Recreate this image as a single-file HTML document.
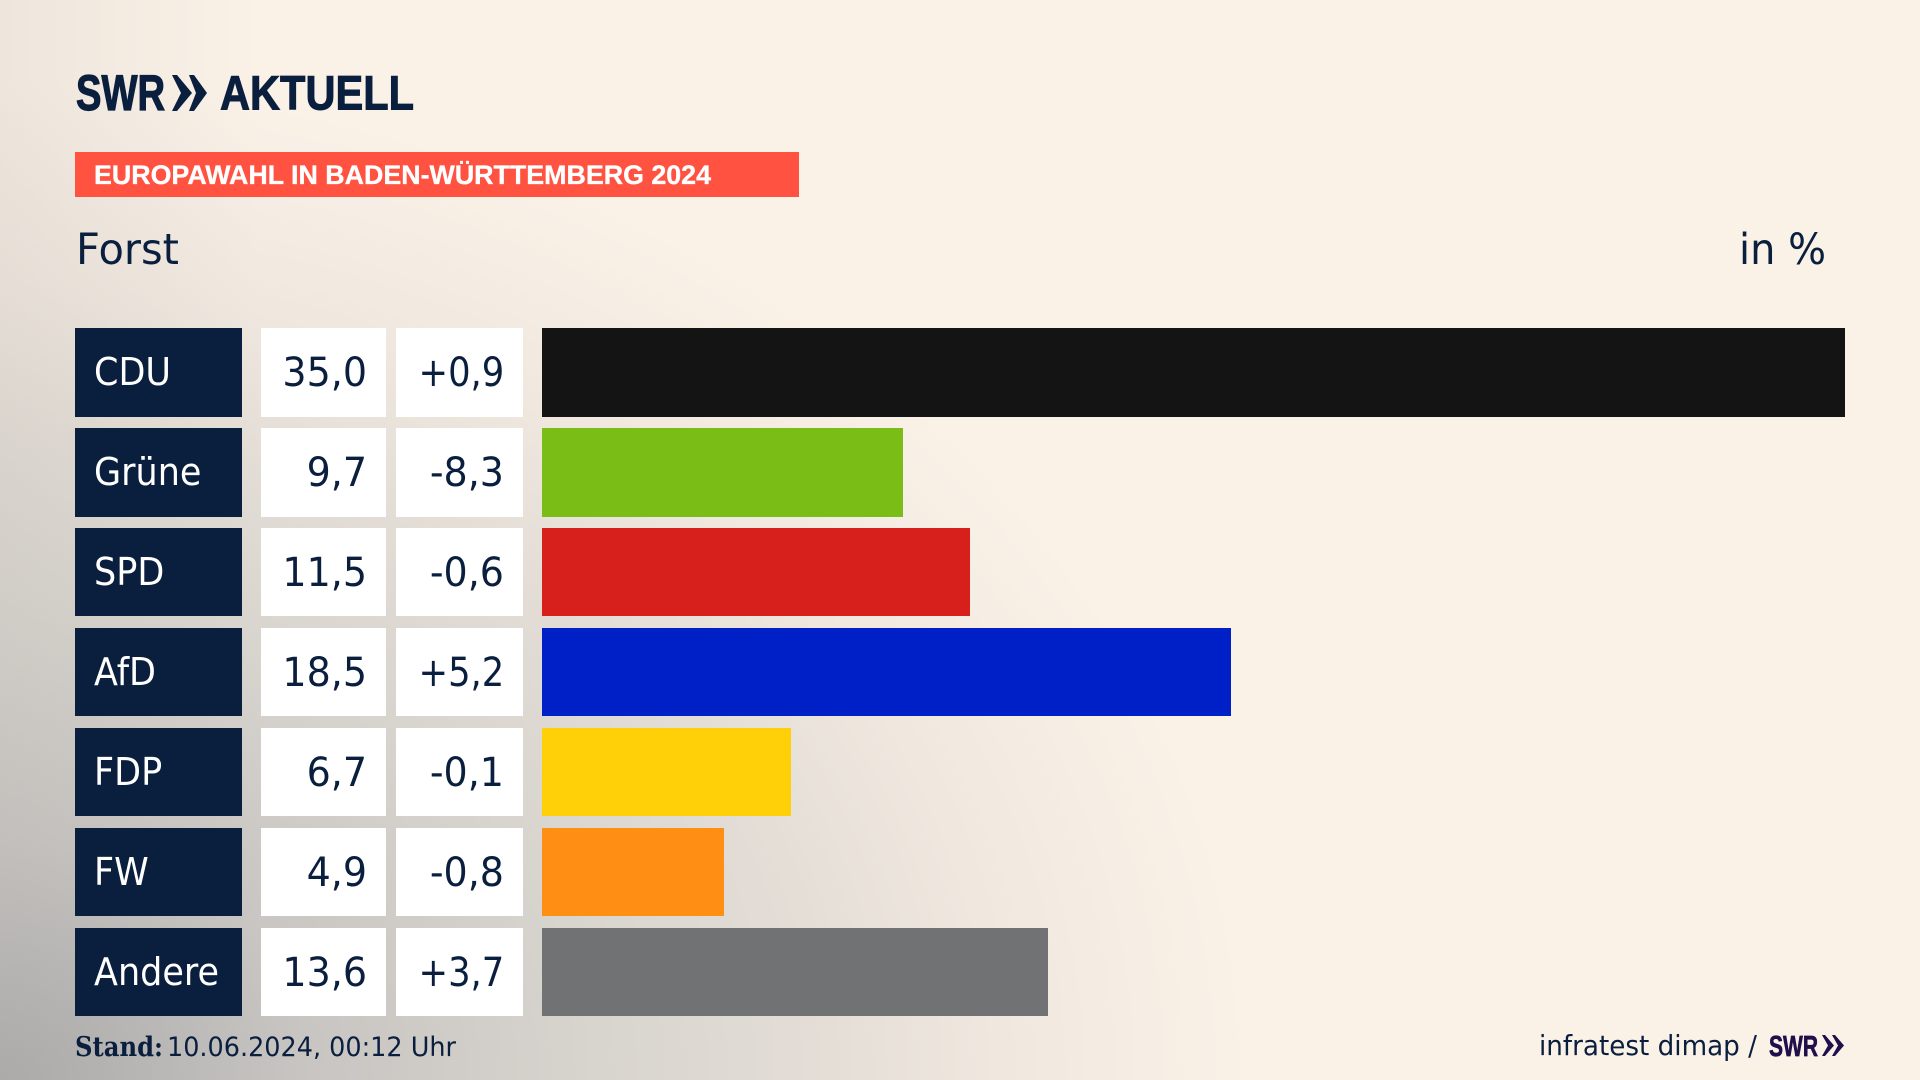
<!DOCTYPE html>
<html lang="de">
<head>
<meta charset="utf-8">
<title>Europawahl in Baden-Württemberg 2024 – Forst</title>
<style>
  html,body{margin:0;padding:0;width:1920px;height:1080px;overflow:hidden}
  body{position:relative;font-family:"DejaVu Sans","Liberation Sans",sans-serif;color:#0a1f3e;
    background:
      linear-gradient(90deg,rgba(165,160,155,.14) 0,rgba(165,160,155,0) 260px),
      radial-gradient(ellipse 1250px 1000px at 0 1080px,#acacac 0%,#c8c5c2 25%,#d8d4ce 48%,#e3ddd6 65%,#f0e8df 80%,#faf1e7 100%)}
  svg.overlay{position:absolute;left:0;top:0}
  #banner{position:absolute;left:75px;top:152px;width:724px;height:45px;background:#ff5240}
  .row-cell{position:absolute;height:89px;line-height:89px;box-sizing:border-box;white-space:nowrap}
  .short-row{height:88px;line-height:88px}
  .label-cell{left:75px;width:167px;background:#0a1f3e;color:#fff;font-size:35px;padding-left:19px}
  .value-cell{left:261px;width:125px;background:#fff;font-size:38px;text-align:right;padding-right:19px}
  .delta-cell{left:396px;width:127px;background:#fff;font-size:38px;text-align:right;padding-right:19px}
  .bar{position:absolute;left:542px;height:89px}
  .bar.short-row{height:88px}
  .bar-cdu{background:#141414}.bar-gruene{background:#7abd17}.bar-spd{background:#d7201c}
  .bar-afd{background:#0020c7}.bar-fdp{background:#ffcf08}.bar-fw{background:#ff8f14}.bar-andere{background:#717273}
  .row-cell span{display:inline-block;transform:scaleY(1.06);transform-origin:center center}
  .label-cell span{transform:translateY(1px) scaleY(1.09)}
  .pos-delta span{transform:scaleX(.93) scaleY(1.06);transform-origin:right center}
</style>
</head>
<body>

<div id="banner"></div>

<svg class="overlay" width="1920" height="1080">
  <g fill="#0a1f3e">
    <text x="76" y="110" font-family="'Liberation Sans',sans-serif" font-weight="700" font-size="50" textLength="89" lengthAdjust="spacingAndGlyphs" stroke="#0a1f3e" stroke-width="1.2">SWR</text>
    <polygon points="172,75 177,75 192,93 177,111 172,111 181,93"/>
    <polygon points="189,75 194,75 207,93 194,111 189,111 196,93"/>
    <text x="220" y="109.5" font-family="'Liberation Sans',sans-serif" font-weight="700" font-size="48" textLength="194" lengthAdjust="spacingAndGlyphs" stroke="#0a1f3e" stroke-width="1">AKTUELL</text>
  </g>
  <text x="94" y="184" fill="#fff" stroke="#fff" stroke-width=".35" font-family="'Liberation Sans',sans-serif" font-weight="700" font-size="27" textLength="617" lengthAdjust="spacingAndGlyphs">EUROPAWAHL IN BADEN-WÜRTTEMBERG 2024</text>
  <text x="76" y="264" fill="#0a1f3e" font-family="'DejaVu Sans',sans-serif" font-size="43" textLength="103" lengthAdjust="spacingAndGlyphs">Forst</text>
  <text x="1739" y="264" fill="#0a1f3e" font-family="'DejaVu Sans',sans-serif" font-size="43" textLength="87" lengthAdjust="spacingAndGlyphs">in %</text>
  <text x="75" y="1056" fill="#0a1f3e" font-family="'DejaVu Serif','Liberation Serif',serif" font-weight="700" font-size="27" textLength="88" lengthAdjust="spacingAndGlyphs">Stand:</text>
  <text x="167" y="1056" fill="#0a1f3e" font-family="'DejaVu Sans',sans-serif" font-size="27" textLength="289" lengthAdjust="spacingAndGlyphs">10.06.2024, 00:12 Uhr</text>
  <text x="1539" y="1055" fill="#0a1f3e" font-family="'DejaVu Sans',sans-serif" font-size="28" textLength="218" lengthAdjust="spacingAndGlyphs">infratest dimap /</text>
  <g fill="#1f0f4a">
    <text x="1769" y="1056" font-family="'Liberation Sans',sans-serif" font-weight="700" font-size="29" textLength="49" lengthAdjust="spacingAndGlyphs" stroke="#1f0f4a" stroke-width=".7">SWR</text>
    <polygon points="1822,1035 1825,1035 1834,1045.5 1825,1056 1822,1056 1828,1045.5"/>
    <polygon points="1832,1035 1835,1035 1844,1045.5 1835,1056 1832,1056 1838,1045.5"/>
  </g>
</svg>

<div id="chart"></div>

<script>
const parties = ['CDU','Grüne','SPD','AfD','FDP','FW','Andere'];
const partyKeys = ['cdu','gruene','spd','afd','fdp','fw','andere'];
const shares = [35.0,9.7,11.5,18.5,6.7,4.9,13.6];
const changes = [0.9,-8.3,-0.6,5.2,-0.1,-0.8,3.7];

const PX_PER_POINT = 1303 / 35;
const ROW_TOP = 328;
const ROW_PITCH = 100;
function xScale(v){ return v * PX_PER_POINT; }
function yScale(i){ return ROW_TOP + i * ROW_PITCH; }
function fmtShare(v){ return v.toFixed(1).replace('.',','); }
function fmtChange(v){ return (v >= 0 ? '+' : '-') + Math.abs(v).toFixed(1).replace('.',','); }

const chart = document.getElementById('chart');
function addCell(cls, top, text, short){
  const cell = document.createElement('div');
  cell.className = 'row-cell ' + cls + (short ? ' short-row' : '');
  cell.style.top = top;
  const inner = document.createElement('span');
  inner.textContent = text;
  cell.appendChild(inner);
  chart.appendChild(cell);
  return cell;
}
parties.forEach(function(party, i){
  const key = partyKeys[i];
  const top = yScale(i) + 'px';
  const short = i >= 2;

  const label = addCell('label-cell', top, party, short);
  
  

  const value = addCell('value-cell', top, fmtShare(shares[i]), short);
  
  

  const delta = addCell('delta-cell' + (changes[i] >= 0 ? ' pos-delta' : ''), top, fmtChange(changes[i]), short);
  
  

  const bar = document.createElement('div');
  bar.className = 'bar bar-' + key + (short ? ' short-row' : '');
  bar.style.top = top;
  bar.style.width = xScale(shares[i]) + 'px';
  
  
  chart.appendChild(bar);
});
</script>
</body>
</html>
